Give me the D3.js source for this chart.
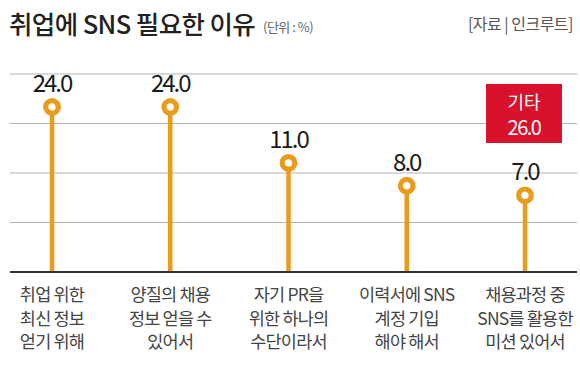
<!DOCTYPE html>
<head>
<meta charset="utf-8">
<script src="https://d3js.org/d3.v7.min.js"></script>
<style>
  body { margin: 0; background: #fff; }
  svg { display: block; }
  text { font-family: "Noto Sans CJK KR", "Noto Sans", sans-serif; }
</style>
</head>
<body>
<script>
  // data
  const categories = [
    ["취업 위한", "최신 정보", "얻기 위해"],
    ["양질의 채용", "정보 얻을 수", "있어서"],
    ["자기 PR을", "위한 하나의", "수단이라서"],
    ["이력서에 SNS", "계정 기입", "해야 해서"],
    ["채용과정 중", "SNS를 활용한", "미션 있어서"]
  ];
  const values = [24.0, 24.0, 11.0, 8.0, 7.0];
  const otherLabel = "기타";
  const otherValue = 26.0;
  const gridLines = [0, 1, 2, 3, 4];

  const W = 580, H = 370,
      left = 10, right = 577, base = 272,
      orange = "#e89b1c";

  const svg = d3.select("body").append("svg")
      .attr("width", W).attr("height", H);

  const x = d3.scalePoint()
      .domain(d3.range(values.length))
      .range([52, 525]);

  // the stems are not drawn to a linear scale in the original graphic
  const y = d3.scaleLog()
      .domain([2.4, 24])
      .range([base, 107]);

  const gy = d3.scaleLinear()
      .domain([0, 4])
      .range([base, 74]);

  // title
  svg.append("text")
      .attr("x", 9).attr("y", 34)
      .attr("font-size", 25.5).attr("font-weight", 500)
      .attr("letter-spacing", -0.6)
      .attr("fill", "#222")
      .text("취업에 SNS 필요한 이유");
  svg.append("text")
      .attr("x", 263).attr("y", 32)
      .attr("font-size", 13)
      .attr("letter-spacing", -0.5)
      .attr("fill", "#666")
      .text("(단위 : %)");
  svg.append("text")
      .attr("x", 573).attr("y", 30)
      .attr("text-anchor", "end")
      .attr("font-size", 16)
      .attr("letter-spacing", -0.5)
      .attr("fill", "#555")
      .text("[자료 | 인크루트]");

  // grid
  svg.append("g").selectAll("line")
      .data(gridLines.slice(1))
      .join("line")
      .attr("x1", left).attr("x2", right)
      .attr("y1", d => gy(d)).attr("y2", d => gy(d))
      .attr("stroke", "#b4b4b4").attr("stroke-width", 1.2);

  // red "other" box
  const box = svg.append("g");
  box.append("rect")
      .attr("x", 486).attr("y", 84)
      .attr("width", 76).attr("height", 59)
      .attr("fill", "#d8112c");
  box.append("text")
      .attr("x", 524).attr("y", 109)
      .attr("text-anchor", "middle")
      .attr("font-size", 18).attr("fill", "#fff")
      .text(otherLabel);
  box.append("text")
      .attr("x", 524).attr("y", 135)
      .attr("text-anchor", "middle")
      .attr("font-size", 20).attr("letter-spacing", -1.5)
      .attr("fill", "#fff")
      .text(otherValue.toFixed(1));

  // lollipops
  const g = svg.append("g").selectAll("g")
      .data(values)
      .join("g")
      .attr("transform", (d, i) => `translate(${x(i)},0)`);

  g.append("line")
      .attr("y1", base).attr("y2", d => y(d))
      .attr("stroke", orange).attr("stroke-width", 4.5);

  g.append("circle")
      .attr("cy", d => y(d))
      .attr("r", 6.3)
      .attr("fill", "#fff")
      .attr("stroke", orange).attr("stroke-width", 5.2);

  g.append("text")
      .attr("y", d => y(d) - 15)
      .attr("text-anchor", "middle")
      .attr("font-size", 24)
      .attr("letter-spacing", -2)
      .attr("fill", "#1a1a1a")
      .text(d => d.toFixed(1));

  // baseline
  svg.append("line")
      .attr("x1", left).attr("x2", right)
      .attr("y1", base).attr("y2", base)
      .attr("stroke", "#333").attr("stroke-width", 2);

  // category labels
  svg.append("g").selectAll("text")
      .data(categories)
      .join("text")
      .attr("x", (d, i) => x(i))
      .attr("text-anchor", "middle")
      .attr("font-size", 17.5)
      .attr("letter-spacing", -0.8)
      .attr("fill", "#444")
      .selectAll("tspan")
      .data(d => d)
      .join("tspan")
      .attr("x", function () { return d3.select(this.parentNode).attr("x"); })
      .attr("y", (d, j) => 301 + j * 23.5)
      .text(d => d);
</script>
</body>
